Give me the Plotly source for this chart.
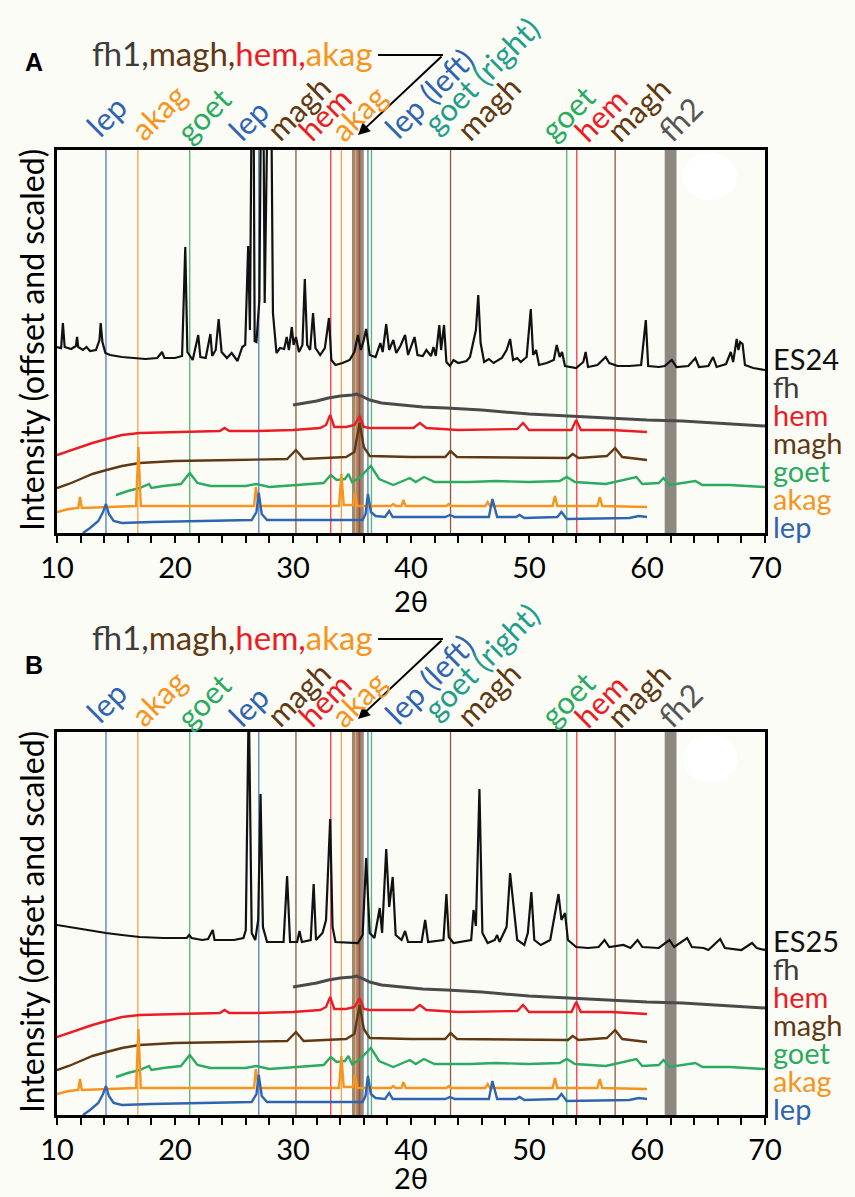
import plotly.graph_objects as go

# ---------------- data (2θ in degrees, intensity offset and scaled, arbitrary units) -------------
es24_x = [10.0, 10.35, 10.5, 10.65, 11.2, 11.6, 11.7, 11.8, 12.2, 12.5, 12.8, 13.3, 13.6, 13.7, 13.85,
          14.1, 14.5, 15.5, 16.5, 17.5, 18.5, 18.9, 19.1, 20.0, 20.6, 20.87, 21.05, 21.5, 21.97, 22.15,
          22.6, 23.0, 23.15, 23.45, 23.7, 23.95, 24.4, 24.8, 25.3, 25.7, 25.95, 26.2, 26.35, 26.6, 26.75,
          26.9, 27.15, 27.4, 27.6, 27.8, 28.05, 28.3, 28.6, 28.9, 29.25, 29.47, 29.65, 29.9, 30.05, 30.25,
          30.5, 30.8, 31.0, 31.2, 31.45, 31.7, 31.9, 32.3, 32.7, 33.05, 33.25, 33.6, 34.2, 34.8, 35.2,
          35.5, 35.75, 36.0, 36.2, 36.5, 37.0, 37.4, 37.6, 37.9, 38.15, 38.5, 38.75, 39.1, 39.5, 39.75,
          40.3, 40.55, 41.0, 41.3, 41.7, 41.9, 42.1, 42.4, 42.55, 42.8, 43.0, 43.3, 43.6, 44.0, 44.7,
          45.0, 45.3, 45.5, 45.7, 45.9, 46.2, 46.6, 47.0, 47.7, 48.1, 48.4, 48.65, 49.0, 49.3, 49.8,
          50.15, 50.35, 50.6, 50.85, 51.5, 52.1, 52.35, 52.6, 52.8, 53.05, 54.0, 54.6, 54.8, 55.0, 55.8,
          56.3, 56.5, 56.8, 57.5, 58.5, 59.5, 59.9, 60.1, 61.0, 61.5, 62.1, 62.5, 63.5, 64.1, 64.4,
          65.2, 65.6, 65.9, 66.7, 67.1, 67.3, 67.6, 67.75, 67.9, 68.1, 68.3, 69.0, 70.0]
es24_y = [186, 185, 210, 186, 184, 187, 196, 186, 183, 186, 182, 183, 193, 210, 191,
          180, 178, 176, 175, 174, 175, 181, 175, 175, 177, 286, 181, 173, 198, 176,
          175, 199, 177, 183, 214, 181, 175, 180, 172, 186, 188, 287, 203, 600, 192,
          191, 233, 600, 230, 600, 600, 220, 180, 185, 184, 196, 183, 206, 188, 196,
          181, 188, 254, 188, 183, 220, 185, 178, 185, 215, 173, 168, 170, 173, 181,
          198, 183, 193, 204, 178, 176, 190, 181, 209, 183, 193, 180, 187, 198, 178,
          196, 178, 177, 183, 177, 186, 177, 208, 183, 208, 171, 167, 173, 170, 172,
          176, 193, 203, 238, 190, 171, 174, 170, 175, 183, 194, 173, 175, 171, 176,
          224, 178, 183, 168, 170, 173, 188, 176, 181, 167, 165, 171, 181, 166, 168,
          174, 176, 170, 167, 167, 168, 213, 167, 166, 167, 173, 166, 167, 175, 166,
          167, 176, 166, 169, 181, 171, 194, 183, 191, 189, 168, 165, 163]

es25_x = [10.0, 11.0, 12.0, 13.0, 14.15, 15.5, 17.0, 19.0, 21.0, 21.2, 21.4, 22.3, 22.8, 23.2, 23.35,
          25.0, 25.8, 26.0, 26.25, 26.5, 26.8, 27.05, 27.25, 27.45, 27.8, 29.2, 29.5, 29.75, 30.35, 30.55,
          30.75, 31.5, 31.75, 31.95, 32.5, 32.8, 33.15, 33.35, 33.6, 35.5, 35.9, 36.2, 36.5, 36.9, 37.35,
          37.55, 37.9, 38.15, 38.45, 38.7, 39.2, 39.5, 39.75, 40.9, 41.2, 41.45, 42.4, 42.75, 43.0, 43.2,
          43.6, 45.1, 45.3, 45.5, 45.8, 46.05, 46.5, 47.1, 47.3, 47.5, 48.1, 48.4, 48.7, 49.0, 49.6,
          49.9, 50.2, 50.45, 51.0, 51.8, 52.5, 52.75, 53.05, 53.3, 54.0, 55.0, 55.9, 56.4, 56.8, 58.0,
          58.6, 59.2, 59.6, 61.0, 61.9, 62.3, 63.4, 63.8, 64.8, 65.2, 66.2, 66.6, 68.0, 68.9, 69.3, 70.0]
es25_y = [190, 188, 186, 184, 182, 180, 178, 177, 177, 180, 177, 175, 176, 185, 175,
          175, 177, 185, 420, 182, 175, 195, 321, 188, 173, 173, 239, 173, 173, 184,
          173, 175, 231, 175, 182, 195, 296, 188, 173, 172, 180, 257, 182, 177, 207,
          182, 266, 208, 238, 180, 175, 184, 173, 173, 195, 173, 175, 175, 221, 178,
          172, 175, 205, 189, 326, 182, 172, 175, 180, 173, 188, 242, 208, 175, 170,
          182, 223, 175, 170, 175, 221, 195, 202, 175, 168, 167, 168, 175, 168, 170,
          167, 175, 168, 167, 175, 168, 177, 168, 167, 165, 176, 167, 165, 172, 167, 165]

fh_x = [30, 31, 32, 33, 34, 35.0, 35.4, 35.8, 36.5, 37.5, 39, 41, 43, 46, 50, 53, 56, 60, 63, 66, 68, 70]
fh_y = [128, 130, 132, 135, 137, 138, 139, 137, 133, 130, 128, 126, 125, 123, 119, 117, 115, 113, 112, 110, 108, 107]

hem_x = [10, 11, 12, 13, 14.2, 15.5, 17, 20, 23, 23.8, 24.2, 24.6, 27, 30, 32.3, 32.8, 33.15, 33.5,
         34.5, 35.2, 35.65, 36.0, 36.5, 40.2, 40.75, 41.3, 44, 49.0, 49.5, 50.0, 53.6, 54.0, 54.4, 57, 60]
hem_y = [78, 82, 86, 90, 94, 98, 100, 101, 102, 102, 105, 102, 102, 103, 105, 108, 118, 106,
         106, 108, 117, 106, 105, 105, 110, 105, 103, 104, 110, 103, 103, 113, 103, 103, 101]

magh_x = [10, 11, 12, 13, 14.2, 15.5, 17, 20, 25, 29.5, 30.25, 30.9, 34.5, 35.2, 35.65, 36.0, 36.5,
          40, 42.9, 43.35, 43.9, 50, 53.3, 53.7, 54.2, 56.6, 57.3, 57.9, 60]
magh_y = [45, 49, 54, 59, 63, 67, 70, 72, 73, 74, 83, 74, 76, 81, 110, 86, 77,
          76, 76, 82, 76, 75, 75, 79, 75, 77, 85, 76, 73]

goet_x = [15.0, 16, 17, 17.8, 18.0, 19, 20.5, 21.25, 21.9, 23, 26, 26.9, 28, 32.6, 33.2, 33.7, 34.4,
          34.7, 35.0, 35.6, 36.6, 37.3, 38.5, 39.9, 40.4, 41.1, 42, 45, 47.2, 50, 52.6, 53.2, 53.9,
          56.5, 59.1, 59.6, 61.0, 61.4, 61.9, 64.1, 64.7, 67, 70]
goet_y = [38, 42, 45, 49, 45, 47, 49, 60, 50, 47, 47, 49, 46, 50, 58, 53, 54,
          59, 51, 55, 67, 54, 48, 55, 51, 56, 51, 51, 52, 51, 52, 56, 51,
          49, 56, 49, 50, 55, 48, 52, 48, 48, 46]

akag_x = [10, 11, 11.8, 11.95, 12.1, 14, 16.7, 16.9, 17.1, 20, 26.7, 26.85, 27.1, 33.9, 34.1, 34.3,
          35.1, 35.25, 35.45, 38.3, 38.5, 38.7, 39.2, 39.35, 39.55, 43, 43.2, 43.4, 46.3, 46.5, 46.7,
          52.0, 52.2, 52.4, 55.8, 56.0, 56.2, 60]
akag_y = [21, 24, 25, 36, 25, 26, 27, 86, 27, 27, 27, 46, 27, 27, 59, 28,
          28, 41, 27, 27, 29, 27, 27, 33, 27, 27, 29, 27, 27, 31, 27,
          27, 37, 27, 27, 36, 27, 26]

lep_x = [12.2, 12.8, 13.5, 13.9, 14.15, 14.4, 14.8, 15.5, 18, 22, 26.5, 26.9, 27.1, 27.35, 27.8, 32,
         35.9, 36.15, 36.35, 36.6, 37.0, 37.8, 38.15, 38.45, 42.9, 43.3, 43.7, 46.6, 46.9, 47.3, 48.9,
         49.2, 49.6, 52.4, 52.75, 53.2, 58.5, 59.3, 60]
lep_y = [0, 5, 12, 21, 29, 19, 12, 10, 11, 12, 13, 21, 40, 19, 13, 13,
         13, 19, 39, 21, 17, 16, 22, 16, 16, 18, 16, 16, 34, 16, 16,
         18, 15, 16, 21, 14, 15, 17, 16]

# reference reflection positions (2θ) and the two ferrihydrite bands
ref_lines = [(14.15, "lep"), (16.85, "akag"), (21.25, "goet"), (27.1, "lep"), (30.25, "magh"),
             (33.2, "hem"), (34.1, "akag"), (35.3, "akag"), (35.6, "hem"), (35.65, "magh"),
             (36.35, "lep"), (36.65, "goet"), (43.35, "magh"), (53.2, "goet"), (54.05, "hem"),
             (57.3, "magh")]
fh1_band = (35.0, 36.0)
fh2_band = (61.5, 62.5)

# ---------------- styling -------------
W, H = 855, 1197
BG = "#fcfcf7"
FONT = "Lato"
col = {"lep": "#2f64b1", "akag": "#f7941d", "goet": "#2bab5f", "goetR": "#1f9e8a",
       "magh": "#603913", "hem": "#ed1c24", "fh": "#4a4a4a", "fh2": "#555555", "es": "#000000"}
line_col = {"lep": "#4f7cc0", "akag": "#f7a243", "goet": "#4cb872", "magh": "#8a5a3c", "hem": "#ee3a40"}

X0, X1 = 57, 765           # plot frame, pixels
PANEL_TOP = [150, 732]
PANEL_H = 383
YR = 383


def px(x):
    return x / W


def py(y):
    return 1 - y / H


fig = go.Figure()

ref_traces = [(fh_x, fh_y, col["fh"], 3.0), (hem_x, hem_y, col["hem"], 2.4), (magh_x, magh_y, col["magh"], 2.4),
              (goet_x, goet_y, col["goet"], 2.4), (akag_x, akag_y, col["akag"], 2.4), (lep_x, lep_y, col["lep"], 2.4)]
samples = [(es24_x, es24_y), (es25_x, es25_y)]

layout_axes = {}
shapes = []
annotations = []

for i in range(2):
    xa = "x" if i == 0 else "x2"
    ya = "y" if i == 0 else "y2"
    top = PANEL_TOP[i]
    bot = top + PANEL_H
    sx, sy = samples[i]
    for (tx, ty, c, w) in ref_traces:
        fig.add_trace(go.Scatter(x=tx, y=ty, mode="lines", line=dict(color=c, width=w),
                                 xaxis=xa, yaxis=ya, showlegend=False, hoverinfo="skip"))
    fig.add_trace(go.Scatter(x=sx, y=sy, mode="lines", line=dict(color="#111111", width=2.2),
                             xaxis=xa, yaxis=ya, showlegend=False, hoverinfo="skip"))

    suffix = "" if i == 0 else "2"
    layout_axes["xaxis" + suffix] = dict(
        domain=[px(X0), px(X1)], range=[10, 70], anchor=ya, dtick=10, tick0=10, automargin=False,
        showline=True, mirror=True, linecolor="black", linewidth=2.5,
        ticks="outside", ticklen=7, tickwidth=1.5, tickcolor="black",
        minor=dict(dtick=2, ticks="outside", ticklen=7, tickwidth=1.5, tickcolor="black"),
        showgrid=False, zeroline=False,
        tickfont=dict(family=FONT, size=29, color="black"))
    layout_axes["yaxis" + suffix] = dict(
        domain=[py(bot), py(top)], range=[0, YR], anchor=xa, automargin=False,
        showline=True, mirror=True, linecolor="black", linewidth=2.5,
        showticklabels=False, ticks="", showgrid=False, zeroline=False)

    # bands and reference lines
    for (b0, b1), fc in ((fh1_band, "#978a7c"), (fh2_band, "#8e8882")):
        shapes.append(dict(type="rect", xref=xa, yref=ya + " domain", x0=b0, x1=b1, y0=0, y1=1,
                           fillcolor=fc, line=dict(width=0), layer="below"))
    for (xv, ph) in ref_lines:
        shapes.append(dict(type="line", xref=xa, yref=ya + " domain", x0=xv, x1=xv, y0=0, y1=1,
                           line=dict(color=line_col[ph], width=1.3), layer="below"))
    # pale spot in the upper right of the frame
    shapes.append(dict(type="circle", xref="paper", yref="paper", x0=px(683), x1=px(737),
                       y0=py(top + 50), y1=py(top + 3), fillcolor="#ffffff", line=dict(width=0),
                       layer="below"))

    # panel letter
    dy = 0 if i == 0 else 603
    annotations.append(dict(text="<b>" + ("A" if i == 0 else "B") + "</b>", x=px(34), y=py(62 + dy),
                            xref="paper", yref="paper", xanchor="center", yanchor="middle",
                            showarrow=False, font=dict(family="Liberation Sans", size=25, color="black")))

    # multi-coloured heading and its arrow to the fh1 band
    ty = 53 + (0 if i == 0 else 584)
    annotations.append(dict(
        text=("<span style='color:#3c3c3c'>fh1,</span><span style='color:#603913'>magh,</span>"
              "<span style='color:#ed1c24'>hem,</span><span style='color:#f7941d'>akag</span>"),
        x=px(90), y=py(ty), xref="paper", yref="paper", xanchor="left", yanchor="middle",
        showarrow=False, font=dict(family=FONT, size=33)))
    shapes.append(dict(type="line", xref="paper", yref="paper", x0=px(378), x1=px(443),
                       y0=py(ty + 2), y1=py(ty + 2), line=dict(color="black", width=2)))
    annotations.append(dict(text="", x=px(358), y=py(ty + 82), xref="paper", yref="paper",
                            ax=85, ay=-80, axref="pixel", ayref="pixel", showarrow=True,
                            arrowhead=2, arrowsize=1.2, arrowwidth=2, arrowcolor="black"))

    # rotated phase labels above the frame
    ld = 0 if i == 0 else 586
    top_labels = [("lep", col["lep"], 106, 116), ("akag", col["akag"], 158, 112),
                  ("goet", col["goet"], 203, 115), ("lep", col["lep"], 248, 120),
                  ("magh", col["magh"], 298, 108), ("hem", col["hem"], 324, 114),
                  ("akag", col["akag"], 358, 113), ("lep (left)", col["lep"], 429, 93),
                  ("goet (right)", col["goetR"], 481, 75), ("magh", col["magh"], 488, 108),
                  ("goet", col["goet"], 567, 113), ("hem", col["hem"], 600, 115),
                  ("magh", col["magh"], 638, 109), ("fh2", col["fh2"], 680, 119)]
    for (t, c, cx, cy) in top_labels:
        annotations.append(dict(text=t, x=px(cx), y=py(cy + ld), xref="paper", yref="paper",
                                xanchor="center", yanchor="middle", textangle=-45, showarrow=False,
                                font=dict(family=FONT, size=31, color=c)))

    # series names on the right
    right_labels = [("ES24" if i == 0 else "ES25", "#111111"), ("fh", "#3c3c3c"), ("hem", col["hem"]),
                    ("magh", col["magh"]), ("goet", col["goet"]), ("akag", col["akag"]), ("lep", col["lep"])]
    for k, (t, c) in enumerate(right_labels):
        annotations.append(dict(text=t, x=px(771), y=py(top + 208 + 28 * k), xref="paper", yref="paper",
                                xanchor="left", yanchor="middle", showarrow=False,
                                font=dict(family=FONT, size=29, color=c)))

    # axis titles
    annotations.append(dict(text="2θ", x=px((X0 + X1) / 2), y=py(bot + (67 if i == 0 else 62)),
                            xref="paper", yref="paper", xanchor="center", yanchor="middle",
                            showarrow=False, font=dict(family=FONT, size=29, color="black")))
    annotations.append(dict(text="Intensity (offset and scaled)", x=px(31), y=py(top + 190),
                            xref="paper", yref="paper", textangle=-90, xanchor="center", yanchor="middle",
                            showarrow=False, font=dict(family=FONT, size=32, color="black")))

fig.update_layout(width=W, height=H, margin=dict(l=0, r=0, t=0, b=0),
                  paper_bgcolor=BG, plot_bgcolor=BG, shapes=shapes, annotations=annotations,
                  **layout_axes)

fig.write_html("out.html")
